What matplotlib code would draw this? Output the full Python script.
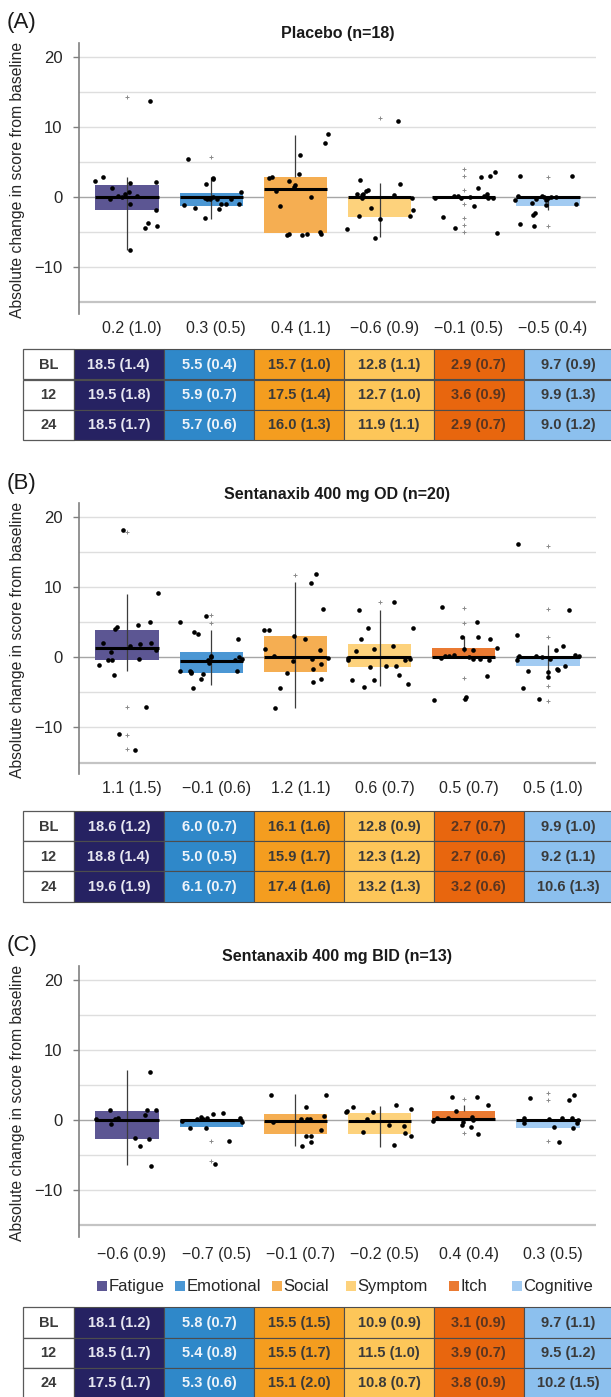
import numpy as np
import matplotlib
matplotlib.use("Agg")
import matplotlib.pyplot as plt
from matplotlib.patches import Rectangle
import matplotlib.transforms as mtransforms

plt.rcParams['font.family'] = ['Liberation Sans', 'DejaVu Sans']

nan = np.nan

# ---------------- data ----------------
categories = ["Fatigue", "Emotional", "Social", "Symptom", "Itch", "Cognitive"]
timepoints = ["BL", "12", "24"]
panel_labels = ["(A)", "(B)", "(C)"]
panel_titles = ["Placebo (n=18)", "Sentanaxib 400 mg OD (n=20)", "Sentanaxib 400 mg BID (n=13)"]

# Panel A: Placebo
placebo_q1 = [-1.81, -1.24, -5.14, -2.86, 0.0, -1.24]
placebo_q3 = [1.71, 0.52, 2.86, 0.05, 0.0, 0.0]
placebo_median = [0.0, -0.05, 1.1, -0.05, 0.0, 0.0]
placebo_whisker_lo = [-7.48, -3.1, 2.86, -5.71, nan, -1.9]
placebo_whisker_hi = [2.86, 2.8, 8.9, 2.0, nan, 0.0]
placebo_plus = [[14.2], [5.7], [], [11.2],
                [3.95, 3.0, 0.95, -1.0, -3.05, -4.05, -5.05], [2.9, -4.14]]
placebo_dots = [
    [(-0.376, 2.24), (-0.285, 2.90), (-0.174, 1.24), (-0.206, -0.24), (-0.103, 0.14), (-0.02, 0.48),
     (0.02, 0.67), (0.032, 2.0), (0.032, -1.05), (0.119, 0.1), (0.04, -7.48), (0.273, 13.67),
     (0.245, -3.67), (0.218, -4.38), (0.34, 2.19), (0.34, -1.86), (0.36, -4.19), (-0.063, 0.05)],
    [(-0.281, 5.48), (-0.321, -1.19), (-0.19, -1.52), (-0.079, -3.0), (-0.059, 1.86), (0.016, 2.76),
     (0.024, 2.62), (-0.051, -0.33), (-0.012, -0.33), (0.087, -1.71), (0.119, -0.95), (0.178, -0.95),
     (0.234, -0.29), (0.325, -0.95), (0.356, 0.71), (0.016, 0.0), (0.067, -0.24), (-0.071, -0.1)],
    [(-0.309, 2.67), (-0.273, 2.86), (-0.226, 0.81), (-0.182, -1.33), (-0.071, 2.29), (-0.012, 1.48),
     (0.0, 1.71), (0.048, 3.24), (0.055, 6.05), (0.19, -0.05), (-0.095, -5.48), (-0.071, -5.33),
     (0.083, -5.48), (0.135, -5.33), (0.293, -5.0), (0.301, -5.33), (0.352, 7.76), (0.384, 8.95)],
    [(-0.392, -4.52), (-0.249, -2.76), (-0.234, 2.38), (-0.265, 0.48), (-0.21, 0.33), (-0.198, 0.48),
     (-0.162, 0.81), (-0.139, 0.95), (-0.107, -1.62), (-0.059, -5.86), (0.008, -3.14), (0.174, 0.24),
     (0.222, 10.9), (0.245, 1.81), (0.356, -2.76), (0.396, -1.86), (0.384, -0.1), (-0.206, -0.1)],
    [(-0.346, -0.1), (-0.247, -2.9), (-0.105, -4.43), (-0.117, 0.14), (-0.069, 0.14), (-0.03, -0.1),
     (0.117, -1.24), (0.168, 1.29), (0.2, 2.81), (0.243, 0.1), (0.275, 0.38), (0.287, -0.1),
     (0.315, 3.0), (0.366, 3.62), (0.394, -5.19), (0.346, -0.1), (0.069, 0.05)],
    [(-0.335, 3.0), (-0.394, -0.38), (-0.358, 0.14), (-0.327, -3.9), (-0.196, -0.81), (-0.18, -2.57),
     (-0.156, -2.33), (-0.164, -4.1), (-0.141, -0.24), (-0.069, 0.14), (-0.026, -0.48), (-0.018, -1.19),
     (0.002, -0.1), (0.03, 0.05), (0.093, -0.05), (0.283, 3.0), (0.331, -1.05), (-0.042, 0.0)],
]
placebo_means = ["0.2 (1.0)", "0.3 (0.5)", "0.4 (1.1)", "\u22120.6 (0.9)", "\u22120.1 (0.5)", "\u22120.5 (0.4)"]
placebo_table = [
    ["18.5 (1.4)", "5.5 (0.4)", "15.7 (1.0)", "12.8 (1.1)", "2.9 (0.7)", "9.7 (0.9)"],
    ["19.5 (1.8)", "5.9 (0.7)", "17.5 (1.4)", "12.7 (1.0)", "3.6 (0.9)", "9.9 (1.3)"],
    ["18.5 (1.7)", "5.7 (0.6)", "16.0 (1.3)", "11.9 (1.1)", "2.9 (0.7)", "9.0 (1.2)"],
]

# Panel B: Sentanaxib 400 mg OD
od_q1 = [-0.33, -2.2, -2.11, -1.37, 0.0, -1.27]
od_q3 = [3.94, 0.8, 3.1, 1.93, 1.37, 0.0]
od_median = [1.36, -0.52, 0.0, 0.0, 0.0, 0.0]
od_whisker_lo = [-1.97, -3.99, -7.18, -4.1, 0.8, -3.0]
od_whisker_hi = [9.0, 3.94, 10.75, 6.75, 3.1, 1.75]
od_plus = [[17.9, -7.1, -11.0, -13.1], [6.0, 4.9], [11.7], [7.9],
           [6.98, 4.9, -3.0, -6.0], [15.85, 6.9, 2.92, -4.06, -6.18]]
od_dots = [
    [(-0.335, -1.13), (-0.287, 2.07), (-0.192, 0.75), (-0.224, -0.38), (-0.176, -0.38), (-0.156, -2.49),
     (-0.144, 4.08), (-0.113, 4.32), (-0.046, 18.2), (0.03, 1.64), (0.133, 4.55), (0.148, -0.19),
     (0.16, 1.88), (0.224, -7.04), (0.279, 4.98), (0.291, 2.07), (0.342, 0.99), (0.374, 9.15),
     (-0.093, -10.99), (0.101, -13.24)],
    [(-0.368, 4.98), (-0.368, -1.92), (-0.257, -1.92), (-0.245, -2.2), (-0.238, -2.02), (-0.214, -4.41),
     (-0.21, 3.62), (-0.162, 3.33), (-0.127, -3.1), (-0.099, -2.35), (-0.067, 5.87), (-0.036, -0.42),
     (-0.024, -0.75), (-0.008, 0.0), (0.0, 0.19), (0.313, 2.63), (0.301, -1.92), (0.329, 0.0),
     (0.364, -0.23), (0.285, -0.38)],
    [(-0.37, 3.85), (-0.315, 3.85), (-0.366, 1.17), (-0.255, 0.19), (-0.243, -7.28), (-0.18, -4.41),
     (-0.101, -2.2), (-0.014, 3.1), (-0.034, -0.56), (0.113, 2.68), (0.188, 10.66), (0.24, 11.83),
     (0.331, 6.95), (0.287, 0.99), (0.192, -0.28), (0.204, -1.64), (0.303, -0.94), (0.303, -3.1),
     (0.204, -3.47), (0.39, -0.14)],
    [(-0.38, -0.38), (-0.333, -3.3), (-0.281, 0.9), (-0.245, 6.79), (-0.222, 2.64), (-0.19, -4.2),
     (-0.143, 4.2), (-0.111, -1.37), (-0.071, 1.13), (-0.067, -3.3), (0.075, -1.18), (0.158, 1.65),
     (0.17, 7.92), (0.19, -1.18), (0.234, -2.55), (0.301, -0.42), (0.333, -3.87), (0.396, 4.15),
     (0.364, -0.24), (-0.376, -0.09)],
    [(-0.35, -6.13), (-0.259, 7.12), (-0.271, -0.14), (-0.22, 0.14), (-0.18, 0.24), (-0.113, 0.38),
     (-0.022, 2.92), (-0.002, 1.23), (0.026, -5.7), (0.01, -6.0), (0.113, 0.99), (0.113, -0.24),
     (0.156, 5.05), (0.164, 2.92), (0.196, -0.24), (0.271, -2.69), (0.303, -0.33), (0.311, 2.59),
     (0.398, 1.37), (0.057, 0.05)],
    [(-0.352, 16.2), (-0.372, 3.2), (-0.372, -0.42), (-0.344, 0.14), (-0.297, -4.43), (-0.238, -1.93),
     (-0.139, 0.14), (-0.107, -5.94), (-0.075, 0.0), (0.0, -2.08), (0.004, -2.74), (0.024, -0.24),
     (0.099, 1.08), (0.103, -1.6), (0.115, -1.75), (0.178, 1.65), (0.198, -1.18), (0.249, 6.79),
     (0.321, 0.33), (0.368, 0.14)],
]
od_means = ["1.1 (1.5)", "\u22120.1 (0.6)", "1.2 (1.1)", "0.6 (0.7)", "0.5 (0.7)", "0.5 (1.0)"]
od_table = [
    ["18.6 (1.2)", "6.0 (0.7)", "16.1 (1.6)", "12.8 (0.9)", "2.7 (0.7)", "9.9 (1.0)"],
    ["18.8 (1.4)", "5.0 (0.5)", "15.9 (1.7)", "12.3 (1.2)", "2.7 (0.6)", "9.2 (1.1)"],
    ["19.6 (1.9)", "6.1 (0.7)", "17.4 (1.6)", "13.2 (1.3)", "3.2 (0.6)", "10.6 (1.3)"],
]

# Panel C: Sentanaxib 400 mg BID
bid_q1 = [-2.69, -0.94, -1.98, -1.93, 0.0, -1.13]
bid_q3 = [1.27, 0.0, 0.8, 0.99, 1.27, 0.0]
bid_median = [-0.05, 0.0, -0.1, -0.1, 0.14, 0.0]
bid_whisker_lo = [-6.37, nan, -3.77, -3.9, 1.27, nan]
bid_whisker_hi = [7.2, nan, 3.77, 1.98, 2.2, nan]
bid_plus = [[], [-2.92, -5.8], [], [], [3.07, -1.89], [3.87, 2.83, -2.97]]
bid_dots = [
    [(-0.364, 0.14), (-0.202, 1.5), (-0.186, -0.57), (-0.107, 0.33), (0.091, -2.55), (0.154, -3.73),
     (0.218, 0.66), (0.234, 1.5), (0.269, 6.8), (0.265, -2.74), (0.289, -6.56), (0.34, 1.5),
     (-0.146, 0.1)],
    [(-0.352, -0.14), (-0.253, -1.13), (-0.17, 0.14), (-0.127, 0.38), (-0.099, 0.14), (-0.063, -1.13),
     (-0.048, 0.33), (0.016, 0.8), (0.143, 0.99), (0.214, -3.02), (0.051, -6.23), (0.348, 0.28),
     (0.368, -0.28)],
    [(-0.291, 3.63), (-0.271, -0.33), (0.065, 0.14), (0.121, 1.93), (0.133, 0.14), (0.172, 0.19),
     (0.121, -2.26), (0.184, -2.26), (0.081, -3.73), (0.184, -3.16), (0.303, -1.42), (0.342, 0.57),
     (0.362, 3.63)],
    [(-0.394, 1.18), (-0.39, 1.27), (-0.315, 1.93), (-0.2, -1.65), (-0.152, 0.1), (-0.073, 1.18),
     (0.117, -0.75), (0.168, -3.58), (0.2, 2.12), (0.295, -0.9), (0.299, -1.89), (0.374, 1.56),
     (0.374, -2.26)],
    [(-0.364, -0.14), (-0.317, 0.28), (-0.19, 0.28), (-0.146, 3.3), (-0.087, 1.23), (-0.024, -0.75),
     (-0.004, -0.24), (0.087, -0.99), (0.095, 0.47), (0.107, 0.05), (0.154, 3.3), (0.166, -1.93),
     (0.285, 2.12)],
    [(-0.281, 0.33), (-0.281, -0.38), (-0.214, 3.11), (0.008, 0.14), (0.067, -0.99), (0.131, -3.11),
     (0.17, 0.28), (0.249, 2.92), (0.281, 0.28), (0.293, -1.13), (0.313, 3.58), (0.348, -0.47),
     (0.36, 0.0)],
]
bid_means = ["\u22120.6 (0.9)", "\u22120.7 (0.5)", "\u22120.1 (0.7)", "\u22120.2 (0.5)", "0.4 (0.4)", "0.3 (0.5)"]
bid_table = [
    ["18.1 (1.2)", "5.8 (0.7)", "15.5 (1.5)", "10.9 (0.9)", "3.1 (0.9)", "9.7 (1.1)"],
    ["18.5 (1.7)", "5.4 (0.8)", "15.5 (1.7)", "11.5 (1.0)", "3.9 (0.7)", "9.5 (1.2)"],
    ["17.5 (1.7)", "5.3 (0.6)", "15.1 (2.0)", "10.8 (0.7)", "3.8 (0.9)", "10.2 (1.5)"],
]

# ---------------- styles ----------------
box_colors = ["#5c5693", "#4b97d4", "#f5ae52", "#fdd27c", "#ea7a32", "#a2cbf2"]
table_colors = ["#262262", "#2f88c9", "#f49d1f", "#fdc659", "#e8660e", "#8cc0ee"]
table_text_colors = ["#e6e6f0", "#eef4fa", "#3a3a3a", "#3a3a3a", "#5a3520", "#3a3a3a"]

panels = [
    (placebo_q1, placebo_q3, placebo_median, placebo_whisker_lo, placebo_whisker_hi,
     placebo_plus, placebo_dots, placebo_means, placebo_table),
    (od_q1, od_q3, od_median, od_whisker_lo, od_whisker_hi, od_plus, od_dots, od_means, od_table),
    (bid_q1, bid_q3, bid_median, bid_whisker_lo, bid_whisker_hi, bid_plus, bid_dots, bid_means, bid_table),
]

W, H = 611, 1397
AX_L, AX_R = 79, 596
AX_H = 270.8
ax_tops = [42.7, 503.0, 965.7]
mean_label_y = [328.5, 788.5, 1255.0]
table_tops = [349.3, 811.0, 1307.3]
ROW_H = 30.2
col_edges = [23.4, 73.5, 164, 254, 344, 434, 523.5, 613.5]
YLIM = (-16.6, 22.0)
XLIM = (-0.57, 5.57)
BOX_W = 0.75

fig = plt.figure(figsize=(W / 100, H / 100), dpi=100)
canvas = fig.add_axes([0, 0, 1, 1])
canvas.set_xlim(0, W)
canvas.set_ylim(H, 0)
canvas.axis('off')

for p, (q1, q3, med, wlo, whi, plus, dots, means, table) in enumerate(panels):
    top = ax_tops[p]
    ax = fig.add_axes([AX_L / W, 1 - (top + AX_H) / H, (AX_R - AX_L) / W, AX_H / H])
    ax.set_facecolor('none')
    ax.set_xlim(*XLIM)
    ax.set_ylim(*YLIM)
    x = np.arange(len(categories))

    for g in range(-15, 25, 5):
        if g == 0:
            ax.axhline(g, color='#a6a6a6', lw=1.0, zorder=0.5)
        elif g == -15:
            ax.axhline(g, color='#c4c4c4', lw=1.6, zorder=0.5)
        else:
            ax.axhline(g, color='#dedede', lw=1.0, zorder=0.5)

    heights = np.array(q3) - np.array(q1)
    ax.bar(x, heights, bottom=q1, width=BOX_W, color=box_colors, zorder=1, linewidth=0)
    ax.vlines(x, wlo, whi, color='#3c3c3c', lw=0.9, zorder=2)
    ax.hlines(med, x - BOX_W / 2, x + BOX_W / 2, color='black', lw=2.2, zorder=3)

    for i in range(len(categories)):
        if plus[i]:
            ax.scatter(np.full(len(plus[i]), x[i]), plus[i], marker='+', s=12,
                       color='#8a8a8a', linewidths=0.7, zorder=3.5)
        dx = np.array([d[0] for d in dots[i]])
        dy = np.array([d[1] for d in dots[i]])
        ax.scatter(x[i] + dx, dy, s=11, color='black', linewidths=0, zorder=4)

    for s in ['top', 'right', 'bottom']:
        ax.spines[s].set_visible(False)
    ax.spines['left'].set_color('#808080')
    ax.spines['left'].set_linewidth(1.2)
    ax.set_xticks([])
    ax.set_yticks([-10, 0, 10, 20])
    ax.set_yticklabels(["\u221210", "0", "10", "20"])
    ax.tick_params(axis='y', length=4, width=1, color='#808080', pad=8,
                   labelsize=12, labelcolor='#262626')

    # mean (SE) labels under each category
    trans = mtransforms.blended_transform_factory(ax.transData, canvas.transData)
    for i, m in enumerate(means):
        ax.text(x[i] + 0.06, mean_label_y[p], m, transform=trans, ha='center', va='center',
                fontsize=11.5, color='#262626', clip_on=False)

    # titles and labels
    canvas.text((AX_L + AX_R) / 2, top - 9, panel_titles[p], ha='center', va='center',
                fontsize=11.5, fontweight='bold', color='#1a1a1a')
    canvas.text(7, top - 20, panel_labels[p], ha='left', va='center', fontsize=16, color='#1a1a1a')
    canvas.text(17.5, top + AX_H / 2 + 2, "Absolute change in score from baseline", rotation=90,
                ha='center', va='center', fontsize=11.3, color='#262626')

    # table
    t0 = table_tops[p]
    for r, tp in enumerate(timepoints):
        y0 = t0 + r * ROW_H
        canvas.add_patch(Rectangle((col_edges[0], y0), col_edges[1] - col_edges[0], ROW_H,
                                   facecolor='white', edgecolor='#595959', lw=0.9))
        canvas.text((col_edges[0] + col_edges[1]) / 2, y0 + ROW_H / 2 + 0.5, tp, ha='center',
                    va='center', fontsize=10.5, fontweight='bold', color='#3a3a3a')
        for c in range(len(categories)):
            xl, xr = col_edges[c + 1], col_edges[c + 2]
            canvas.add_patch(Rectangle((xl, y0), xr - xl, ROW_H, facecolor=table_colors[c],
                                       edgecolor='#4d4d4d', lw=0.8))
            canvas.text((xl + xr) / 2, y0 + ROW_H / 2 + 0.5, table[r][c], ha='center', va='center',
                        fontsize=10.5, fontweight='bold', color=table_text_colors[c])

# legend (panel C)
legend_sq_x = [97.4, 175, 272, 345.7, 449, 511.7]
LEG_BASE = 1291
for c, name in enumerate(categories):
    canvas.add_patch(Rectangle((legend_sq_x[c], LEG_BASE - 10), 10, 10, facecolor=box_colors[c], lw=0))
    canvas.text(legend_sq_x[c] + 11.5, LEG_BASE, name, ha='left', va='baseline', fontsize=12,
                color='#262626')

fig.savefig("out.png", dpi=100)
